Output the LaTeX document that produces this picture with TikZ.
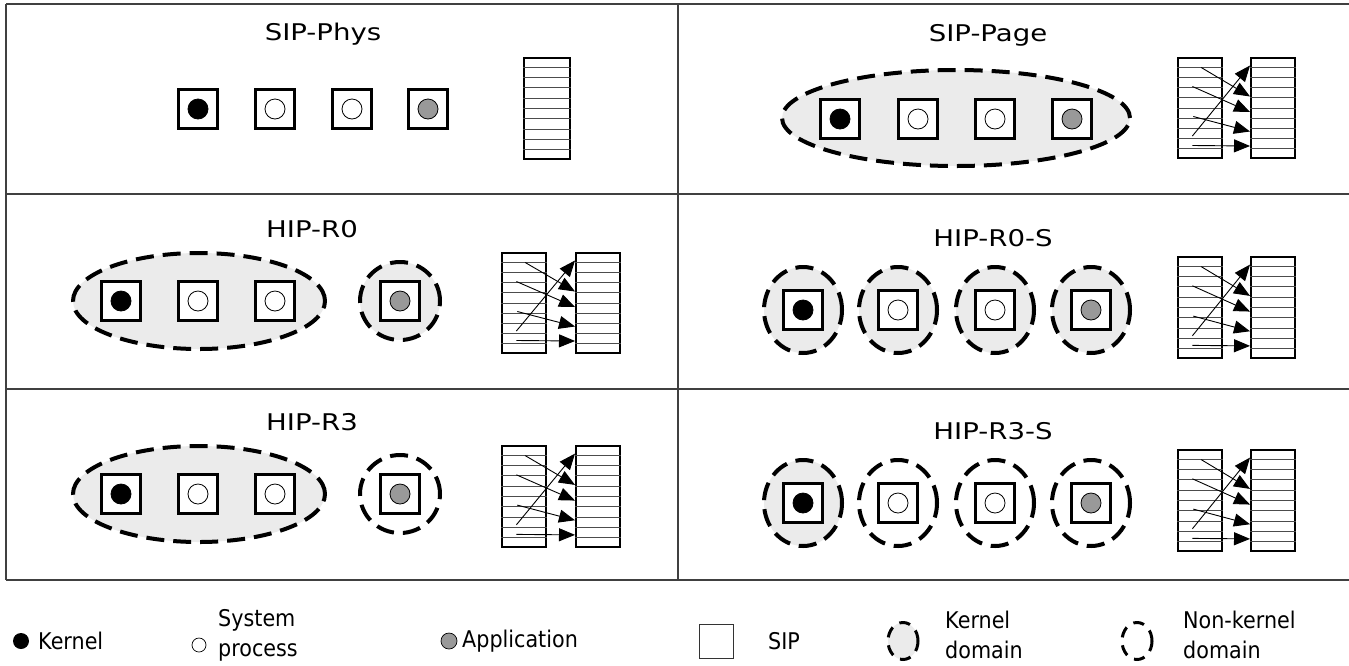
\documentclass[tikz,border=0pt]{standalone}
\usepackage{fontspec}
\setmainfont{DejaVu Sans}
\newfontfamily\ttlfont[FakeStretch=1.2]{DejaVu Sans}
\newfontfamily\lgdfont[FakeStretch=0.9]{DejaVu Sans}
\usetikzlibrary{shapes.geometric,arrows.meta,calc}
\definecolor{domfill}{HTML}{EBEBEB}
\definecolor{appg}{HTML}{999999}
\definecolor{framec}{HTML}{404040}
\tikzset{
  sipbox/.style={draw=black, line width=3pt, fill=white, minimum width=39pt, minimum height=39pt, inner sep=0pt},
  dotnode/.style={circle, draw=black, line width=0.8pt, minimum size=20pt, inner sep=0pt},
  kdom/.style={ellipse, draw=black, line width=4pt, dash pattern=on 18pt off 9pt, fill=domfill, inner sep=0pt},
  ndom/.style={ellipse, draw=black, line width=4pt, dash pattern=on 18pt off 9pt, inner sep=0pt},
  ptab/.style={draw=black, line width=2.2pt, fill=white, inner sep=0pt, anchor=north west},
  rowline/.style={line width=1pt, draw=black!70},
  parr/.style={line width=0.9pt, -{Triangle[length=16pt,width=13pt]}},
  framel/.style={line width=1.6pt, draw=framec},
  ttl/.style={font=\ttlfont\fontsize{23}{27}\selectfont, inner sep=0pt},
  lgd/.style={font=\lgdfont\fontsize{23}{30}\selectfont, inner sep=0pt, anchor=west, align=left},
  lgdom/.style={ellipse, draw=black, line width=3pt, dash pattern=on 11pt off 8pt, minimum width=30pt, minimum height=37pt, inner sep=0pt},
}
\newcommand\Sip[4]{%
  \node[sipbox] (#1) at (#2,#3) {};
  \node[dotnode, fill=#4] (#1-d) at (#1.center) {};}
\newcommand\PTab[5]{%
  \node[ptab, minimum width=#4pt, minimum height=#5pt] (#1) at (#2,#3) {};
  \foreach \k in {1,...,9}
    \draw[rowline] ($(#1.north west)!\k/10!(#1.south west)$) -- ($(#1.north east)!\k/10!(#1.south east)$);}
\newcommand\PTpair[6]{%
  \PTab{#1L}{#2}{#4}{#5}{#6}
  \PTab{#1R}{#3}{#4}{#5}{#6}
  \coordinate (#1s1) at ($(#1L.north west)+(0.35*#5,0.79*#6)$);
  \coordinate (#1e1) at ($(#1R.north west)+(0,0.085*#6)$);
  \coordinate (#1s2) at ($(#1L.north west)+(0.55*#5,0.105*#6)$);
  \coordinate (#1e2) at ($(#1R.north west)+(0,0.395*#6)$);
  \coordinate (#1s3) at ($(#1L.north west)+(0.35*#5,0.295*#6)$);
  \coordinate (#1e3) at ($(#1R.north west)+(0,0.55*#6)$);
  \coordinate (#1s4) at ($(#1L.north west)+(0.37*#5,0.595*#6)$);
  \coordinate (#1e4) at ($(#1R.north west)+(0,0.745*#6)$);
  \coordinate (#1s5) at ($(#1L.north west)+(0.35*#5,0.885*#6)$);
  \coordinate (#1e5) at ($(#1R.north west)+(0,0.89*#6)$);
  \foreach \k in {1,...,5} \draw[parr] (#1s\k) -- (#1e\k);}
\begin{document}
\begin{tikzpicture}[x=1pt,y=-1pt]
\useasboundingbox (0,0) rectangle (1349,665);
% frame
\draw[framel] (6,4) -- (1349,4);
\draw[framel] (6,4) -- (6,580);
\draw[framel] (6,194) -- (1349,194);
\draw[framel] (6,389) -- (1349,389);
\draw[framel] (6,580) -- (1349,580);
\draw[framel] (678,4) -- (678,580);

% ---- SIP-Phys
\node[ttl] (t1) at (323,34) {SIP-Phys};
\Sip{a1}{198}{109}{black}
\Sip{a2}{275}{109}{white}
\Sip{a3}{352}{109}{white}
\Sip{a4}{428}{109}{appg}
\PTab{pta}{523}{57}{46}{101}

% ---- SIP-Page
\node[ttl] (t2) at (988,35) {SIP-Page};
\node[kdom, minimum width=348pt, minimum height=96pt] (e2) at (956,118) {};
\Sip{b1}{840}{119}{black}
\Sip{b2}{918}{119}{white}
\Sip{b3}{995}{119}{white}
\Sip{b4}{1072}{119}{appg}
\PTpair{ptb}{1177}{1250}{57}{44}{100}

% ---- HIP-R0
\node[ttl] (t3) at (312,229) {HIP-R0};
\node[kdom, minimum width=252pt, minimum height=96pt] (e3) at (199,301) {};
\node[kdom, minimum width=80pt, minimum height=78pt] (c3) at (400,301) {};
\Sip{c1}{121}{301}{black}
\Sip{c2}{198}{301}{white}
\Sip{c4}{275}{301}{white}
\Sip{c5}{400}{301}{appg}
\PTpair{ptc}{501}{575}{252}{44}{100}

% ---- HIP-R0-S
\node[ttl] (t4) at (993,238) {HIP-R0-S};
\node[kdom, minimum width=78pt, minimum height=86pt] (d1c) at (803,310) {};
\node[kdom, minimum width=78pt, minimum height=86pt] (d2c) at (898,310) {};
\node[kdom, minimum width=78pt, minimum height=86pt] (d3c) at (995,310) {};
\node[kdom, minimum width=78pt, minimum height=86pt] (d4c) at (1091,310) {};
\Sip{d1}{803}{310}{black}
\Sip{d2}{898}{310}{white}
\Sip{d3}{995}{310}{white}
\Sip{d4}{1091}{310}{appg}
\PTpair{ptd}{1177}{1250}{256}{44}{101}

% ---- HIP-R3
\node[ttl] (t5) at (312,422) {HIP-R3};
\node[kdom, minimum width=252pt, minimum height=96pt] (e5) at (199,494) {};
\node[ndom, minimum width=80pt, minimum height=78pt] (c5c) at (400,494) {};
\Sip{f1}{121}{494}{black}
\Sip{f2}{198}{494}{white}
\Sip{f3}{275}{494}{white}
\Sip{f4}{400}{494}{appg}
\PTpair{ptf}{501}{575}{445}{44}{101}

% ---- HIP-R3-S
\node[ttl] (t6) at (993,431) {HIP-R3-S};
\node[kdom, minimum width=78pt, minimum height=86pt] (g1c) at (803,503) {};
\node[ndom, minimum width=78pt, minimum height=86pt] (g2c) at (898,503) {};
\node[ndom, minimum width=78pt, minimum height=86pt] (g3c) at (995,503) {};
\node[ndom, minimum width=78pt, minimum height=86pt] (g4c) at (1091,503) {};
\Sip{g1}{803}{503}{black}
\Sip{g2}{898}{503}{white}
\Sip{g3}{995}{503}{white}
\Sip{g4}{1091}{503}{appg}
\PTpair{ptg}{1177}{1250}{449}{44}{101}

% ---- legend
\node[circle, fill=black, minimum size=16pt, inner sep=0pt] (lk) at (21,641) {};
\node[lgd] (lkt) at (38,641) {Kernel};
\node[circle, draw=black, line width=0.7pt, fill=white, minimum size=14pt, inner sep=0pt] (ls) at (199,645) {};
\node[lgd] (lst) at (218,635) {System\\process};
\node[circle, draw=black, line width=0.7pt, fill=appg, minimum size=16pt, inner sep=0pt] (la) at (449,641) {};
\node[lgd] (lat) at (462,641) {Application};
\node[draw=black!80, line width=1pt, minimum width=34pt, minimum height=34pt, inner sep=0pt] (lb) at (716,641) {};
\node[lgd] (lbt) at (768,641) {SIP};
\node[lgdom, fill=domfill] (lkd) at (903,641) {};
\node[lgd] (lkdt) at (945,635) {Kernel\\domain};
\node[lgdom] (lnd) at (1137,641) {};
\node[lgd] (lndt) at (1183,635) {Non-kernel\\domain};
\end{tikzpicture}
\end{document}
